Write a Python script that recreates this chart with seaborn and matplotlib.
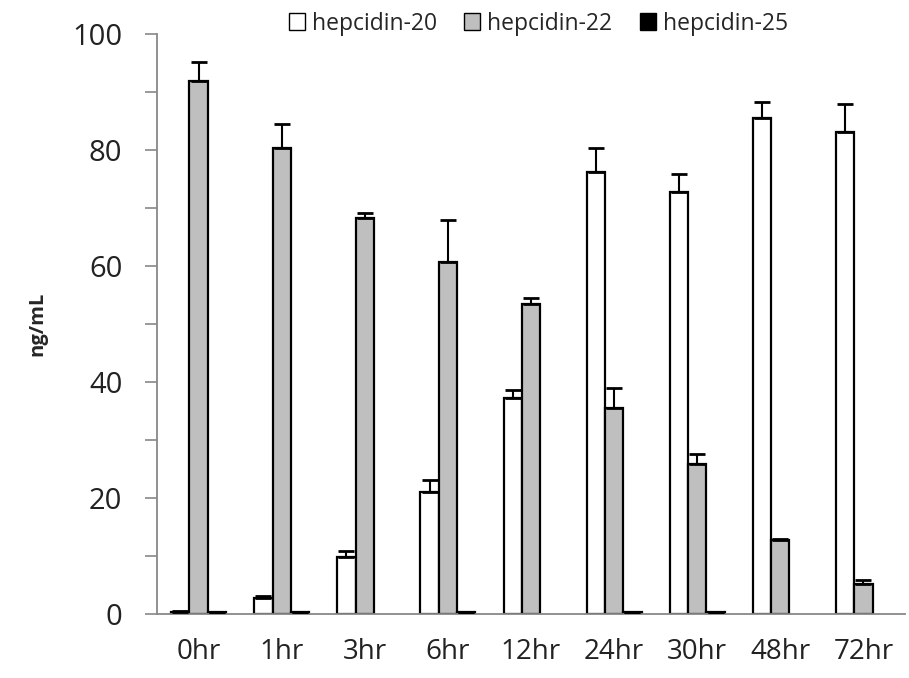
import numpy as np
import pandas as pd
import matplotlib
matplotlib.use("Agg")
import matplotlib.pyplot as plt
import seaborn as sns

times = ["0hr", "1hr", "3hr", "6hr", "12hr", "24hr", "30hr", "48hr", "72hr"]
series = ["hepcidin-20", "hepcidin-22", "hepcidin-25"]
h20 = [0.3, 2.8, 9.8, 21.0, 37.2, 76.2, 72.8, 85.5, 83.1]
h22 = [91.9, 80.3, 68.3, 60.7, 53.4, 35.5, 25.9, 12.8, 5.2]
h25 = [0.3, 0.3, 0.0, 0.3, 0.0, 0.3, 0.3, 0.0, 0.0]
h20_err = [0.2, 0.3, 1.1, 2.1, 1.4, 4.1, 3.1, 2.8, 4.8]
h22_err = [3.3, 4.2, 0.8, 7.2, 1.1, 3.5, 1.7, 0.2, 0.7]
h25_err = [0.1, 0.1, 0.0, 0.1, 0.0, 0.1, 0.1, 0.0, 0.0]
yticks = [0, 20, 40, 60, 80, 100]

sns.set_style("white")
plt.rcParams["font.family"] = ["Open Sans", "DejaVu Sans"]

df = pd.DataFrame({
    "time": times * 3,
    "value": h20 + h22 + h25,
    "series": [series[0]] * 9 + [series[1]] * 9 + [series[2]] * 9,
})
errs = [h20_err, h22_err, h25_err]

fig = plt.figure(figsize=(9.09, 6.78), dpi=100)
ax = fig.add_axes([0.1727, 0.0944, 0.8229, 0.8555])
palette = {series[0]: "white", series[1]: "#bfbfbf", series[2]: "black"}
sns.barplot(data=df, x="time", y="value", hue="series", order=times,
            hue_order=series, palette=palette, width=0.66, edgecolor="black",
            linewidth=1.6, errorbar=None, ax=ax, zorder=2)

for cont, e, vals in zip(ax.containers, errs, [h20, h22, h25]):
    for p, ev, v in zip(cont.patches, e, vals):
        if v <= 0:
            p.set_visible(False)
            continue
        xc = p.get_x() + p.get_width() / 2
        ax.errorbar([xc], [v], yerr=[[0], [ev]], fmt="none",
                    ecolor="black", elinewidth=1.5, capsize=6, capthick=2,
                    zorder=3)

ax.set_xlim(-0.5, len(times) - 0.5)
ax.set_ylim(0, 100)
ax.set_yticks(np.arange(0, 101, 10))
ax.set_yticklabels([str(v) if v in yticks else "" for v in range(0, 101, 10)])
ax.set_xticks(range(len(times)))
ax.set_xticklabels(times)
ax.set_xticks(np.arange(-0.5, len(times), 1.0), minor=True)
ax.tick_params(axis="x", which="major", length=0, labelsize=20, pad=17,
               colors="#222222")
ax.tick_params(axis="x", which="minor", length=11, width=1.2, color="#888888",
               direction="out")
ax.tick_params(axis="y", which="major", length=9, width=1.2, color="#888888",
               direction="out", left=True, labelsize=21, pad=16,
               labelcolor="#222222")
for s in ["top", "right"]:
    ax.spines[s].set_visible(False)
for s in ["left", "bottom"]:
    ax.spines[s].set_color("#888888")
    ax.spines[s].set_linewidth(1.3)

ax.set_xlabel("")
ax.set_ylabel("ng/mL", fontsize=14.5, fontweight="bold", labelpad=18)

leg = ax.legend(ncol=3, frameon=False, loc="center",
                bbox_to_anchor=(0.51, 1.018), fontsize=16.5,
                handlelength=0.7, handleheight=0.7, handletextpad=0.3,
                columnspacing=1.2)
for h in leg.legend_handles:
    h.set_edgecolor("black")
    h.set_linewidth(1.0)

fig.savefig("out.png", dpi=100)
